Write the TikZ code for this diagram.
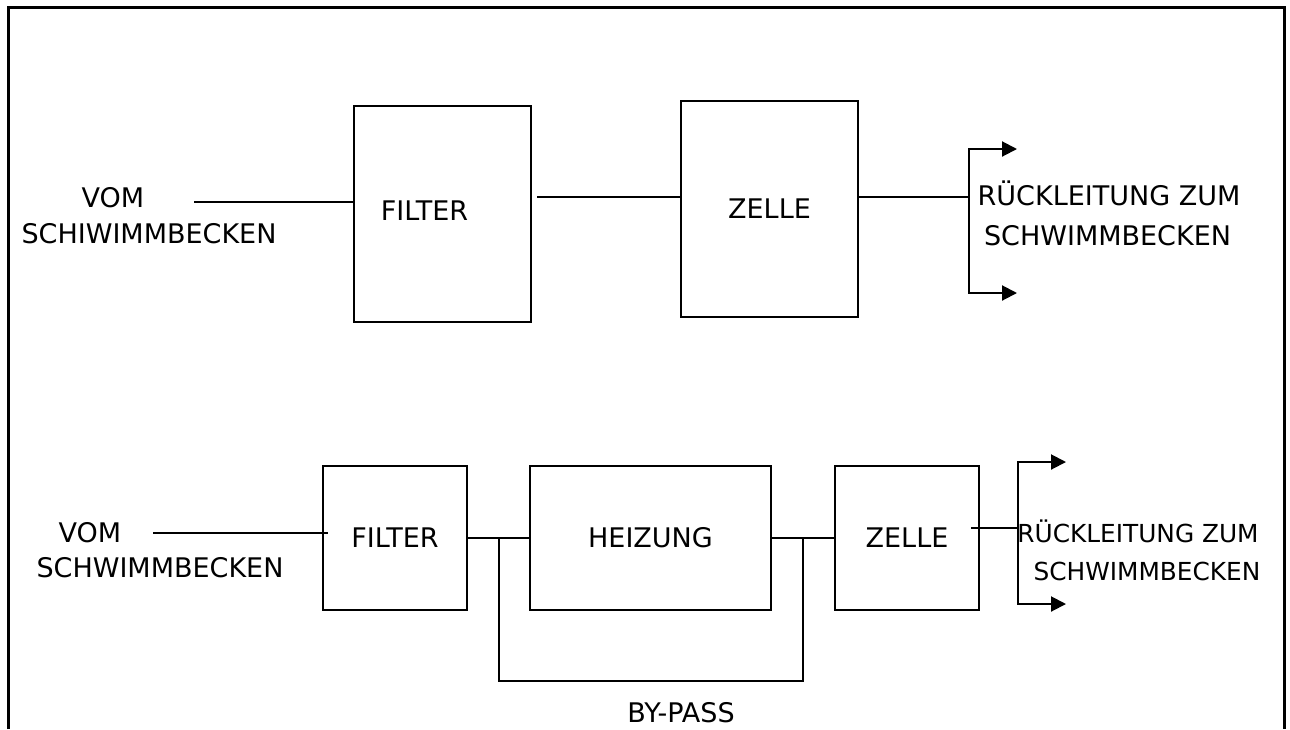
\documentclass[tikz,border=0pt]{standalone}
\usepackage{fontspec}
\setmainfont{DejaVu Sans}
\usepackage{tikz}
\usetikzlibrary{arrows.meta}

\begin{document}
\begin{tikzpicture}[x=0.5pt, y=-0.5pt,
        block/.style={draw, line width=1pt, inner sep=0pt, font=\fontsize{13.5}{16}\selectfont},
        txt/.style={inner sep=0pt, anchor=base, font=\fontsize{13.5}{16}\selectfont},
        small/.style={font=\fontsize{12.4}{15}\selectfont},
        pipe/.style={line width=1pt},
        outflow/.style={line width=1pt, -{Triangle[length=7.5pt, width=7.5pt]}}]
        \useasboundingbox (0,0) rectangle (1290,729);
        % Frame
        \draw [line width=1.5pt] (8,729) -- (8,7) -- (1284,7) -- (1284,729);
        % Upper circuit
        \node [block, minimum width=88.5pt, minimum height=108pt,
               label={[txt, anchor=center, xshift=-9pt, yshift=1.5pt]center:FILTER}] (filA) at (442.5,214) {};
        \node [block, minimum width=88.5pt, minimum height=108pt] (zelA) at (769.5,209) {ZELLE};
        \coordinate (inA) at (194,202);
        \coordinate (gapA) at (537,197);
        \coordinate (brA) at (969,197);
        \coordinate (tipAt) at (1017,149);
        \coordinate (tipAb) at (1017,293);
        \draw [pipe] (inA) -- (filA.west |- inA);
        \draw [pipe] (gapA) -- (zelA.west |- gapA);
        \draw [pipe] (zelA.east |- brA) -- (brA);
        \draw [outflow] (brA) |- (tipAt);
        \draw [outflow] (brA) |- (tipAb);
        \node [txt] (vomA) at (113,207) {VOM};
        \node [txt] (srcA) at (149,243) {SCHIWIMMBECKEN};
        \node [txt] (retA) at (1109,205) {RÜCKLEITUNG ZUM};
        \node [txt] (poolA) at (1107.5,245) {SCHWIMMBECKEN};
        % Lower circuit
        \node [block, minimum width=72pt, minimum height=72pt] (filB) at (395,538) {FILTER};
        \node [block, minimum width=120.5pt, minimum height=72pt] (heiz) at (650.5,538) {HEIZUNG};
        \node [block, minimum width=72pt, minimum height=72pt] (zelB) at (907,538) {ZELLE};
        \coordinate (inB) at (153,533);
        \coordinate (bpL) at (499,538);
        \coordinate (bpR) at (803,538);
        \coordinate (brB) at (1018,528);
        \coordinate (tipBt) at (1066,462);
        \coordinate (tipBb) at (1066,604);
        \draw [pipe] (inB) -- (filB.west |- inB) -- ++(6,0);
        \draw [pipe] (filB.east) -- (heiz.west);
        \draw [pipe] (heiz.east) -- (zelB.west);
        \draw [pipe] (bpL) -- ++(0,143) -| (bpR);
        \draw [pipe] (zelB.east |- brB) ++(-9,0) -- (brB);
        \draw [outflow] (brB) |- (tipBt);
        \draw [outflow] (brB) |- (tipBb);
        \node [txt] (vomB) at (90,542) {VOM};
        \node [txt] (srcB) at (160,577) {SCHWIMMBECKEN};
        \node [txt, small] (retB) at (1138,542) {RÜCKLEITUNG ZUM};
        \node [txt, small] (poolB) at (1147,580) {SCHWIMMBECKEN};
        \node [txt] (bypass) at (681,722) {BY-PASS};
    \end{tikzpicture}
\end{document}
